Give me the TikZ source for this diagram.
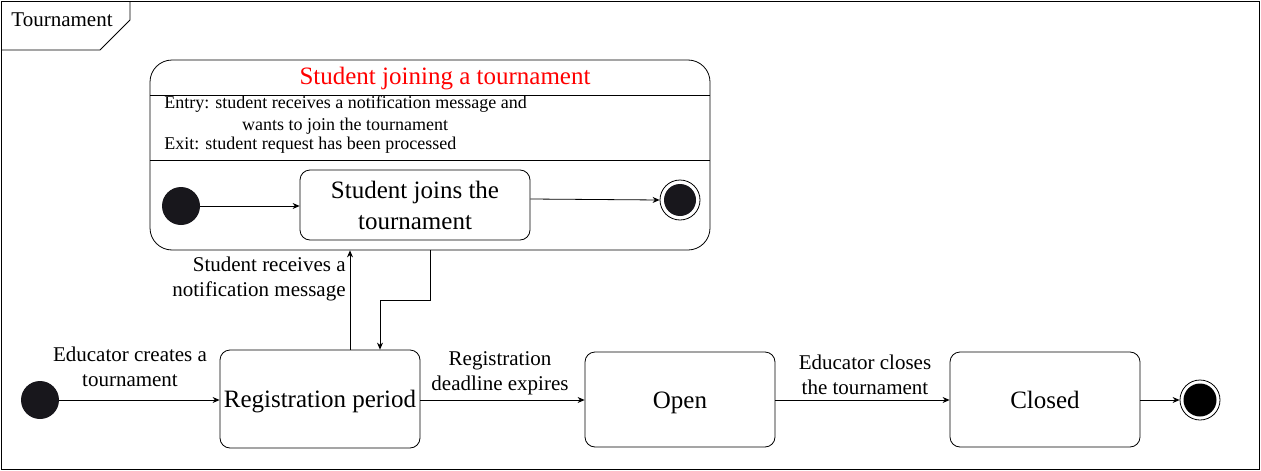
\documentclass[tikz,border=0pt]{standalone}
\usepackage{fontspec}
\setmainfont{Liberation Serif}
\usetikzlibrary{arrows.meta}
\definecolor{dotc}{HTML}{18171C}
\tikzset{
  statebox/.style={draw, rounded corners=10pt, inner sep=0pt, align=center, font=\fontsize{25}{31}\selectfont},
  onebox/.style={statebox, text height=17pt, text depth=0pt},
  initdot/.style={circle, fill=dotc, draw=none, minimum size=38pt, inner sep=0pt},
  lbl/.style={font=\fontsize{21}{25}\selectfont, align=center, inner sep=0pt},
  conn/.style={-{Stealth[length=7pt,width=6pt]}, line width=0.8pt}
}
\begin{document}
\begin{tikzpicture}[x=1pt,y=-1pt, line width=0.8pt]
\useasboundingbox (0,0) rectangle (1261,471);
\fill[white] (0,0) rectangle (1261,471);
% frame
\draw (1,1) rectangle (1259,469);
\draw (1,50) -- (100,50) -- (130,20) -- (130,1);
\node[font=\fontsize{21}{25}\selectfont, inner sep=0pt] (tabtext) at (62,20) {Tournament};
% composite state
\node[draw, rounded corners=22pt, minimum width=560pt, minimum height=190pt, inner sep=0pt] (comp) at (430,155) {};
\draw (150,95) -- (710,95);
\draw (150,160) -- (710,160);
\node[text=red, font=\fontsize{25}{30}\selectfont, inner sep=0pt, text depth=0pt] (comptitle) at (445,76) {Student joining a tournament};
\node[font=\fontsize{18}{21}\selectfont, inner sep=0pt, anchor=west] (entry1) at (164,104) {Entry: student receives a notification message and};
\node[font=\fontsize{18}{21}\selectfont, inner sep=0pt] (entry2) at (345,126) {wants to join the tournament};
\node[font=\fontsize{18}{21}\selectfont, inner sep=0pt, anchor=west] (exit1) at (164,145) {Exit: student request has been processed};
% inner
\node[initdot] (iinit) at (181,206) {};
\node[statebox, minimum width=230pt, minimum height=70pt] (joins) at (415,205) {Student joins the\\tournament};
\node[circle, draw, minimum size=40pt, inner sep=0pt] (ifin) at (680,200) {};
\node[circle, fill=dotc, minimum size=32pt, inner sep=0pt] (ifincore) at (680,200) {};
\draw[conn] (iinit) -- (joins.west |- iinit);
\draw[conn] (joins.east |- 0,199) -- (ifin.west);
% bottom row
\node[initdot] (init) at (40,400) {};
\node[onebox, minimum width=200pt, minimum height=98pt] (reg) at (320,399) {Registration period};
\node[onebox, minimum width=190pt, minimum height=95pt] (open) at (680,399.5) {Open};
\node[onebox, minimum width=190pt, minimum height=95pt] (closed) at (1045,399.5) {Closed};
\node[circle, draw, minimum size=40pt, inner sep=0pt] (fin) at (1200,400) {};
\node[circle, fill=black, minimum size=33pt, inner sep=0pt] (fincore) at (1200,400) {};
\draw[conn] (init) -- (reg.west |- 0,400);
\node[lbl] (l1) at (130,367) {Educator creates a\\tournament};
\draw[conn] (reg.east |- 0,400) -- (open.west |- 0,400);
\node[lbl] (l2) at (500,373) {Registration\\deadline expires};
\draw[conn] (open.east |- 0,400) -- (closed.west |- 0,400);
\node[lbl] (l3) at (865,375) {Educator closes\\the tournament};
\draw[conn] (closed.east |- 0,400) -- (fin.west);
% vertical connectors
\draw[conn] (reg.north -| 350,0) -- (comp.south -| 350,0);
\node[lbl, align=right, anchor=east] (l4) at (346,279) {Student receives a\\notification message};
\coordinate (c1) at (430,300);
\coordinate (c2) at (380,300);
\draw[conn] (comp.south -| 430,0) -- (c1) -- (c2) -- (reg.north -| 380,0);
\end{tikzpicture}
\end{document}
